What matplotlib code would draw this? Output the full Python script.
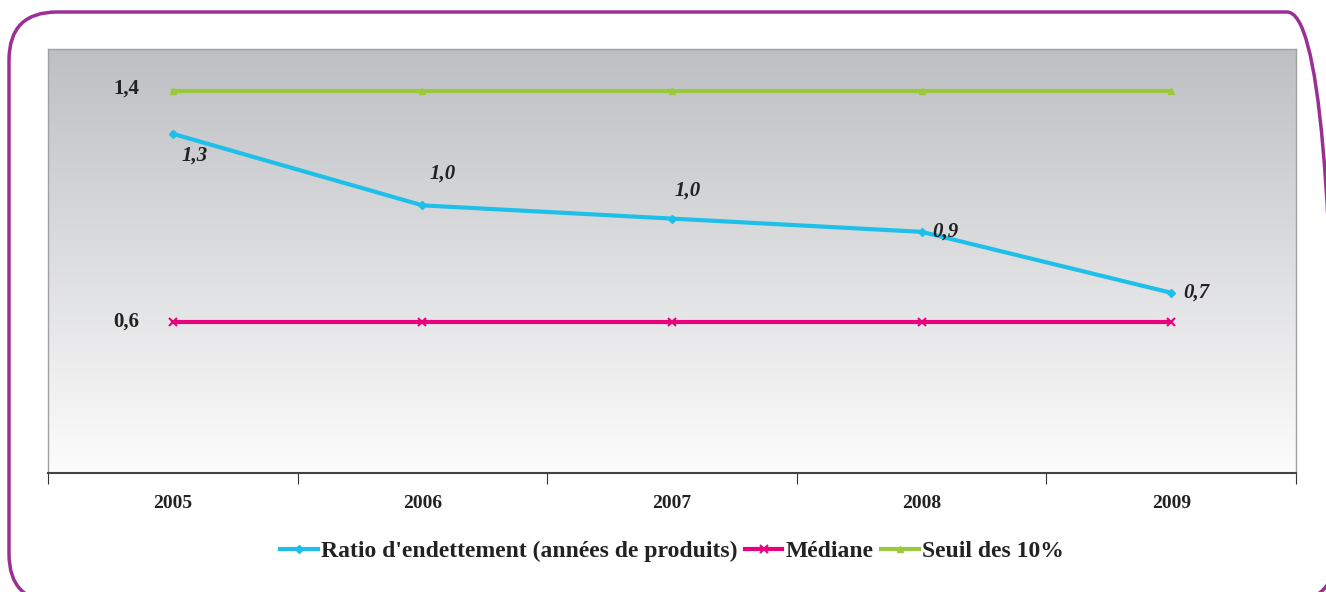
import matplotlib.pyplot as plt
import numpy as np
from matplotlib.patches import FancyBboxPatch
from matplotlib.transforms import IdentityTransform

years = ['2005', '2006', '2007', '2008', '2009']
ratio = [1.28, 1.01, 0.96, 0.91, 0.68]
mediane = [0.57, 0.57, 0.57, 0.57, 0.57]
seuil = [1.44, 1.44, 1.44, 1.44, 1.44]

BLUE = '#1ec0ea'
PINK = '#e8007d'
GREEN = '#9cc93b'

plt.rcParams['font.family'] = ['Liberation Serif', 'DejaVu Serif']

fig = plt.figure(figsize=(13.26, 5.92), dpi=100)
W, H = 1326, 592
ax = fig.add_axes([48 / W, 1 - 473 / H, (1296 - 48) / W, (473 - 49) / H])

x = np.arange(len(years))

# gradient background: gray at top to white at bottom
grad = np.linspace(0, 1, 256).reshape(-1, 1)
top = np.array([0.745, 0.75, 0.765])
bot = np.array([0.99, 0.99, 0.99])
img = top + (bot - top) * grad[..., None]
ax.imshow(img, extent=[-0.5, 4.5, 0, 1.6], origin='upper', aspect='auto', zorder=0)
ax.set_xlim(-0.5, 4.5)
ax.set_ylim(0, 1.6)

ax.plot(x, ratio, color=BLUE, lw=3, marker='D', ms=4, zorder=3,
        label="Ratio d'endettement (années de produits)")
ax.plot(x, mediane, color=PINK, lw=3, marker='x', ms=6, mew=1.5, zorder=3,
        label='Médiane')
ax.plot(x, seuil, color=GREEN, lw=3, marker='^', ms=4, zorder=3,
        label='Seuil des 10%')

def fmt(v):
    return f'{v:.1f}'.replace('.', ',')

lab_off = [(6, -16), (5, 23), (2, 20), (8, 0), (9, 0)]
for i, v in enumerate(ratio):
    ax.annotate(fmt(v), (x[i], v), xytext=lab_off[i], textcoords='offset points',
                ha='left', va='center', fontsize=15, fontweight='bold',
                fontstyle='italic', color='#222222')
ax.annotate(fmt(seuil[0]), (x[0], seuil[0]), xytext=(-24, 2), textcoords='offset points',
            ha='right', va='center', fontsize=15, fontweight='bold', color='#222222')
ax.annotate(fmt(mediane[0]), (x[0], mediane[0]), xytext=(-24, 0), textcoords='offset points',
            ha='right', va='center', fontsize=15, fontweight='bold', color='#222222')

ax.set_xticks(np.arange(-0.5, 5, 1))
ax.set_xticklabels([])
ax.set_xticks(x, minor=True)
ax.set_xticklabels(years, minor=True, fontsize=14, fontweight='bold', color='#222222')
ax.tick_params(axis='x', which='major', length=8, direction='out', color='#333333')
ax.tick_params(axis='x', which='minor', length=0, pad=16)
ax.set_yticks([])

for side in ['top', 'right', 'left']:
    ax.spines[side].set_color('#a0a0a0')
    ax.spines[side].set_linewidth(1)
ax.spines['bottom'].set_color('#444444')
ax.spines['bottom'].set_linewidth(1.5)

leg = fig.legend(loc='center', bbox_to_anchor=(672 / W, 1 - 551 / H), ncol=3,
                 frameon=False, handlelength=1.6, handletextpad=0.15, columnspacing=0.3,
                 prop={'size': 17, 'weight': 'bold'})
for t in leg.get_texts():
    t.set_color('#222222')

# rounded purple frame, in pixels (origin bottom-left)
frame = FancyBboxPatch((9, -10), 1335 - 9, 582 + 10 - 1 + 10 - 11,
                       boxstyle='round,pad=0,rounding_size=48',
                       transform=IdentityTransform(), fill=False,
                       edgecolor='#9b2f96', lw=2.5)
fig.patches.append(frame)

fig.savefig('out.png', dpi=100)
